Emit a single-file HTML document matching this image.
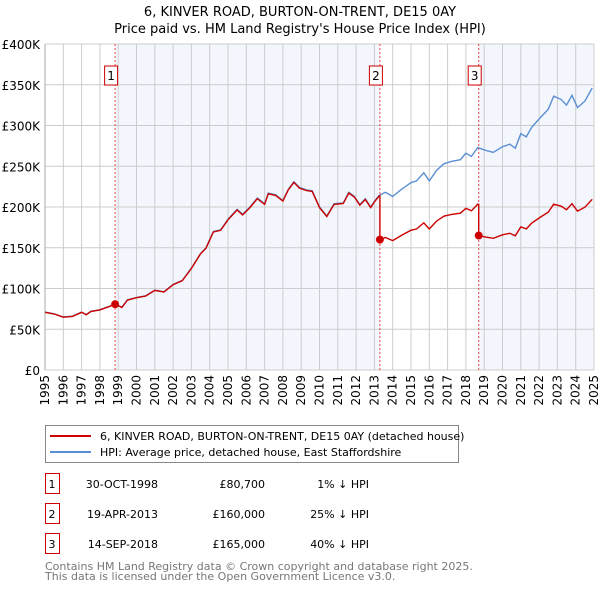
<!DOCTYPE html>
<html><head><meta charset="utf-8"><style>
body{margin:0;background:#fff;font-family:"Liberation Sans","DejaVu Sans",sans-serif;}
</style></head><body>
<svg id="chart" width="600" height="590" xmlns="http://www.w3.org/2000/svg" font-family="DejaVu Sans, Liberation Sans, sans-serif">
<text x="300" y="16" font-size="13" text-anchor="middle">6, KINVER ROAD, BURTON-ON-TRENT, DE15 0AY</text>
<text x="300" y="33" font-size="13" text-anchor="middle">Price paid vs. HM Land Registry's House Price Index (HPI)</text>
<g id="plot"></g>
<g>
<rect x="45.5" y="425.5" width="413" height="37" fill="#fff" stroke="#888"/>
<line x1="50" y1="436" x2="91" y2="436" stroke="#cc0000" stroke-width="2"/>
<text x="100" y="440" font-size="11">6, KINVER ROAD, BURTON-ON-TRENT, DE15 0AY (detached house)</text>
<line x1="50" y1="452" x2="91" y2="452" stroke="#5b8fd4" stroke-width="2"/>
<text x="100" y="456" font-size="11">HPI: Average price, detached house, East Staffordshire</text>
</g>
<g id="table" font-size="11"></g>
<text x="45" y="570" font-size="11" fill="#777">Contains HM Land Registry data © Crown copyright and database right 2025.</text>
<text x="45" y="580" font-size="11" fill="#777">This data is licensed under the Open Government Licence v3.0.</text>
</svg>
<script>
const hpiYears=[1995,1995.5,1996,1996.5,1997,1997.25,1997.5,1998,1998.5,1998.83,1999.2,1999.5,2000,2000.5,2001,2001.5,2002,2002.5,2003,2003.5,2003.8,2004.2,2004.6,2005,2005.5,2005.8,2006.2,2006.6,2007,2007.2,2007.6,2008,2008.3,2008.6,2008.9,2009.3,2009.6,2010,2010.4,2010.8,2011.3,2011.6,2011.9,2012.2,2012.5,2012.8,2013.0,2013.25,2013.6,2014,2014.5,2015,2015.3,2015.7,2016,2016.4,2016.8,2017.2,2017.7,2018,2018.3,2018.65,2019,2019.5,2020,2020.4,2020.7,2021.0,2021.3,2021.6,2022,2022.5,2022.8,2023.2,2023.5,2023.8,2024.1,2024.5,2024.9];
const hpiValues=[71,69,65,66,71,68,72,74,78,81,77,86,89,91,98,96,105,110,125,143,150,170,172,185,197,191,200,211,204,217,215,208,222,231,224,221,220,200,189,204,205,218,213,203,210,200,207,214,218,213,222,230,232,242,232,245,253,256,258,266,262,273,270,267,274,277,272,290,286,298,308,320,336,332,325,337,322,330,346];
const saleYears=[1998.83,2013.3,2018.7];
const salePrices=[80.7,160,165];
const saleLabels=["1","2","3"];
const saleDates=["30-OCT-1998","19-APR-2013","14-SEP-2018"];
const salePriceText=["£80,700","£160,000","£165,000"];
const saleDiff=["1% ↓ HPI","25% ↓ HPI","40% ↓ HPI"];
const yTicks=[0,50,100,150,200,250,300,350,400];
const yTickLabels=["£0","£50K","£100K","£150K","£200K","£250K","£300K","£350K","£400K"];

const NS="http://www.w3.org/2000/svg";
const L=45,R=594,T=44,B=370,X0=1995,X1=2025,YMAX=400;
const xs=y=>L+(y-X0)/(X1-X0)*(R-L);
const ys=v=>B-v/YMAX*(B-T);
const plot=document.getElementById('plot');
function mk(tag,attrs,parent){const e=document.createElementNS(NS,tag);for(const k in attrs)e.setAttribute(k,attrs[k]);(parent||plot).appendChild(e);return e;}
function hpiAt(y){for(let i=0;i<hpiYears.length-1;i++){if(y<=hpiYears[i+1]){const t=(y-hpiYears[i])/(hpiYears[i+1]-hpiYears[i]);return hpiValues[i]+t*(hpiValues[i+1]-hpiValues[i]);}}return hpiValues[hpiValues.length-1];}
for(const [a,b] of [[saleYears[0],saleYears[1]],[saleYears[2],X1]]){
 const r=mk('rect',{x:xs(a),y:T,width:xs(b)-xs(a),height:B-T,fill:'#f3f7fd'});
 
 
}
for(let y=X0;y<=X1;y++){
 const g=mk('line',{x1:xs(y),x2:xs(y),y1:T,y2:B,stroke:'#cccccc','stroke-width':1});
 
 
 const t=mk('text',{x:0,y:0,'font-size':12,'text-anchor':'end',transform:`translate(${xs(y)+4},${B+5}) rotate(-90)`});
 t.textContent=y;
 
 
}
yTicks.forEach((v,i)=>{
 const g=mk('line',{x1:L,x2:R,y1:ys(v),y2:ys(v),stroke:'#cccccc','stroke-width':1});
 
 
 const t=mk('text',{x:L-5,y:ys(v)+5,'font-size':12,'text-anchor':'end'});
 t.textContent=yTickLabels[i];
 
 
});
mk('line',{x1:L,x2:L,y1:T,y2:B,stroke:'#aaa'});
saleYears.forEach((s,i)=>{
 const l=mk('line',{x1:xs(s),x2:xs(s),y1:T,y2:B,stroke:'#ee4444','stroke-width':1,'stroke-dasharray':'2,2'});
 
 
 const bx=mk('rect',{x:xs(s)-10.5,y:66,width:13,height:19,fill:'#fff',stroke:'#cc0000'});
 
 
 const t=mk('text',{x:xs(s)-4,y:80,'font-size':12,'text-anchor':'middle'});
 t.textContent=saleLabels[i];
 
 
});
let d='';hpiYears.forEach((y,i)=>{d+=(i?'L':'M')+xs(y).toFixed(1)+','+ys(hpiValues[i]).toFixed(1);});
const hp=mk('path',{d:d,fill:'none',stroke:'#5b8fd4','stroke-width':1.4});


let pd='';
const ratio0=salePrices[0]/hpiAt(saleYears[0]);
let pts=[];
hpiYears.forEach((y,i)=>{let k=0;for(let j=0;j<saleYears.length;j++)if(y>=saleYears[j])k=j;
 let r=y<saleYears[0]?ratio0:salePrices[k]/hpiAt(saleYears[k]);pts.push([y,hpiValues[i]*r]);});
saleYears.forEach((s,j)=>{if(j>0){pts.push([s-0.001,hpiAt(s)*salePrices[j-1]/hpiAt(saleYears[j-1])]);}pts.push([s,salePrices[j]]);});
pts.sort((a,b)=>a[0]-b[0]);
pts.forEach((p,i)=>{pd+=(i?'L':'M')+xs(p[0]).toFixed(1)+','+ys(p[1]).toFixed(1);});
const pp=mk('path',{d:pd,fill:'none',stroke:'#cc0000','stroke-width':1.4});


saleYears.forEach((s,i)=>{
 const c=mk('circle',{cx:xs(s),cy:ys(salePrices[i]),r:4,fill:'#cc0000'});
 
 
});
const tb=document.getElementById('table');
saleLabels.forEach((lab,i)=>{
 const y=483+i*30;
 const b=mk('rect',{x:45.5,y:y-9.5,width:14,height:20,fill:'#fff',stroke:'#cc0000'},tb);
 
 
 const cols=[[52,lab,'middle'],[158,saleDates[i],'end'],[265,salePriceText[i],'end'],[369,saleDiff[i],'end']];
 cols.forEach(c=>{const t=mk('text',{x:c[0],y:y+5,'text-anchor':c[2]},tb);t.textContent=c[1];
  
  });
});
</script>
</body></html>
